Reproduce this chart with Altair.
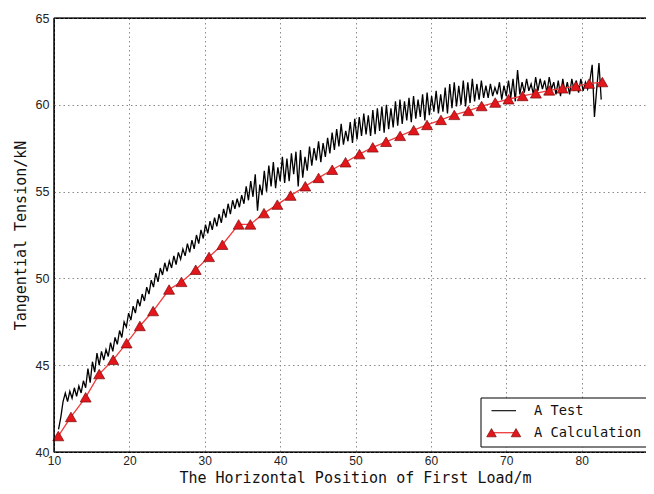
import altair as alt
import pandas as pd

# ---- data ----
calc_x = [10.57, 12.25, 14.2, 16.0, 17.85, 19.63, 21.39, 23.15, 25.27, 26.91,
          28.8, 30.57, 32.34, 34.5, 36.05, 37.86, 39.63, 41.39, 43.34, 45.1,
          46.91, 48.68, 50.53, 52.29, 54.06, 55.92, 57.72, 59.49, 61.34, 63.11,
          64.97, 66.73, 68.54, 70.3, 72.16, 73.93, 75.7, 77.46, 79.23, 80.99, 82.75]
calc_y = [40.92, 42.02, 43.15, 44.49, 45.31, 46.27, 47.26, 48.12, 49.36, 49.8,
          50.5, 51.24, 51.94, 53.11, 53.11, 53.76, 54.25, 54.77, 55.31, 55.79,
          56.26, 56.69, 57.16, 57.55, 57.87, 58.21, 58.54, 58.84, 59.13, 59.42,
          59.65, 59.93, 60.13, 60.32, 60.51, 60.66, 60.83, 60.95, 61.08, 61.22, 61.31]

# test record, sampled every 0.3 m starting at 10.6 m
test_x0 = 10.6
test_dx = 0.3
test_y = [
    41.3, 42.0, 42.9, 43.4, 42.9, 43.5, 43.1, 43.7, 43.2, 43.8,
    43.4, 44.1, 43.7, 44.8, 44.0, 45.2, 44.6, 45.7, 45.0, 45.8,
    45.3, 45.9, 45.5, 46.3, 45.8, 46.6, 46.2, 47.0, 46.6, 47.5,
    47.2, 48.0, 47.6, 48.4, 48.0, 48.8, 48.4, 49.1, 48.7, 49.5,
    49.1, 49.9, 49.5, 50.3, 49.8, 50.6, 50.2, 50.9, 50.4, 51.0,
    50.6, 51.3, 50.8, 51.5, 51.1, 51.7, 51.3, 52.0, 51.5, 52.2,
    51.7, 52.5, 52.0, 52.8, 52.3, 53.1, 52.6, 53.3, 52.8, 53.5,
    53.0, 53.7, 53.2, 54.0, 53.5, 54.3, 53.7, 54.5, 54.0, 54.6,
    54.1, 54.8, 54.3, 55.3, 54.5, 55.6, 54.7, 56.0, 53.9, 55.4,
    54.8, 56.2, 55.0, 56.5, 55.3, 56.7, 55.2, 56.4, 55.6, 57.0,
    55.5, 56.9, 55.6, 57.2, 56.0, 57.3, 55.3, 57.4, 55.8, 57.0,
    56.2, 57.6, 56.5, 57.5, 56.8, 57.9, 56.7, 57.8, 57.0, 58.1,
    57.2, 58.4, 57.4, 58.6, 57.6, 58.9, 57.7, 58.5, 57.9, 59.0,
    57.8, 59.2, 58.0, 59.3, 58.2, 59.5, 58.3, 59.4, 58.2, 59.7,
    58.3, 59.8, 58.5, 59.9, 58.4, 60.0, 58.6, 59.8, 58.7, 60.2,
    58.8, 60.3, 58.9, 60.2, 59.1, 60.4, 59.0, 60.5, 59.2, 60.3,
    59.3, 60.6, 59.1, 60.7, 59.4, 60.5, 59.6, 60.8, 59.5, 60.6,
    59.6, 61.0, 59.5, 61.2, 59.8, 61.3, 59.9, 61.1, 60.0, 61.4,
    59.9, 61.3, 60.1, 61.5, 60.2, 61.2, 60.3, 61.4, 60.4, 61.1,
    60.4, 61.2, 60.5, 61.0, 60.6, 61.3, 60.3, 61.1, 60.5, 61.4,
    60.4, 61.5, 60.2, 62.0, 60.6, 61.3, 60.7, 61.5, 60.8, 61.2,
    60.6, 61.6, 60.8, 61.5, 60.9, 61.4, 60.7, 61.6, 60.9, 61.3,
    60.6, 61.4, 60.5, 61.5, 60.7, 61.3, 60.6, 61.5, 60.8, 61.4,
    60.7, 61.5, 60.8, 61.3, 60.9, 61.4, 62.3, 59.3, 60.9, 62.4,
    60.3,
]

x_ticks = [10, 20, 30, 40, 50, 60, 70, 80, 90]
y_ticks = [40, 45, 50, 55, 60, 65]
x_title = "The Horizontal Position of First Load/m"
y_title = "Tangential Tension/kN"
legend_labels = ["A Test", "A Calculation"]

test_x = [round(test_x0 + test_dx * i, 2) for i in range(len(test_y))]
df_test = pd.DataFrame({"x": test_x, "y": test_y})
df_calc = pd.DataFrame({"x": calc_x, "y": calc_y})
one = pd.DataFrame({"k": [0]})

RED_LINE = "#ef3b3b"
RED_FILL = "#e3161c"
RED_EDGE = "#7a0a0a"
MONO = "DejaVu Sans Mono"
W, H = 603, 434

xs = alt.Scale(domain=[10, 90], nice=False, zero=False)
ys = alt.Scale(domain=[40, 65], nice=False, zero=False)

x_axis = alt.Axis(values=x_ticks, title=x_title, grid=True, domain=False, ticks=False,
                  labelFlush=False, labelPadding=3, labelFontSize=12,
                  titleX=301, titleY=30.5, titleAlign="center", titleBaseline="alphabetic")
y_axis = alt.Axis(values=y_ticks, title=y_title, grid=True, domain=False, ticks=False,
                  labelFlush=False, labelPadding=5, labelFontSize=12.5,
                  titleX=-34, titleY=H / 2, titleAngle=270,
                  titleAlign="center", titleBaseline="middle")

test_line = alt.Chart(df_test).mark_line(color="black", strokeWidth=1.3).encode(
    x=alt.X("x:Q", scale=xs, axis=x_axis),
    y=alt.Y("y:Q", scale=ys, axis=y_axis),
)
calc_line = alt.Chart(df_calc).mark_line(color=RED_LINE, strokeWidth=1.3).encode(
    x=alt.X("x:Q", scale=xs), y=alt.Y("y:Q", scale=ys)
)
calc_pts = alt.Chart(df_calc).mark_point(
    shape="triangle-up", filled=True, fill=RED_FILL, stroke=RED_EDGE,
    strokeWidth=0.7, size=120, opacity=1
).encode(x=alt.X("x:Q", scale=xs), y=alt.Y("y:Q", scale=ys))

# ---- solid frame lines (top, left, bottom) drawn over the dotted grid ----
frame_top = alt.Chart(one).mark_rule(color="black", strokeWidth=1.2).encode(
    x=alt.value(0), x2=alt.value(W), y=alt.value(0)
)
frame_bottom = alt.Chart(one).mark_rule(color="black", strokeWidth=1.2).encode(
    x=alt.value(0), x2=alt.value(W), y=alt.value(H)
)
frame_left = alt.Chart(one).mark_rule(color="black", strokeWidth=1.2).encode(
    x=alt.value(0), y=alt.value(0), y2=alt.value(H)
)

# ---- legend box (bottom right, inside the plot) ----
leg_box = alt.Chart(one).mark_rect(fill="white", stroke="black", strokeWidth=1).encode(
    x=alt.value(427), x2=alt.value(594), y=alt.value(380), y2=alt.value(429)
)
leg_l1 = alt.Chart(one).mark_rule(color="black", strokeWidth=1.1).encode(
    x=alt.value(437.5), x2=alt.value(462), y=alt.value(392.7)
)
leg_l2 = alt.Chart(one).mark_rule(color=RED_LINE, strokeWidth=1.3).encode(
    x=alt.value(437.5), x2=alt.value(462), y=alt.value(414.7)
)
leg_t1 = alt.Chart(one).mark_point(
    shape="triangle-up", filled=True, fill=RED_FILL, stroke=RED_EDGE,
    strokeWidth=0.7, size=90, opacity=1
).encode(x=alt.value(437.5), y=alt.value(414.7))
leg_t2 = alt.Chart(one).mark_point(
    shape="triangle-up", filled=True, fill=RED_FILL, stroke=RED_EDGE,
    strokeWidth=0.7, size=90, opacity=1
).encode(x=alt.value(462), y=alt.value(414.7))
leg_txt1 = alt.Chart(one).mark_text(
    align="left", baseline="middle", font=MONO, fontSize=13.7, color="#111"
).encode(x=alt.value(480), y=alt.value(392.7), text=alt.value(legend_labels[0]))
leg_txt2 = alt.Chart(one).mark_text(
    align="left", baseline="middle", font=MONO, fontSize=13.7, color="#111"
).encode(x=alt.value(480), y=alt.value(414.7), text=alt.value(legend_labels[1]))

chart = alt.layer(
    test_line, calc_line, calc_pts,
    frame_top, frame_bottom, frame_left,
    leg_box, leg_l1, leg_l2, leg_t1, leg_t2, leg_txt1, leg_txt2,
).properties(
    width=W, height=H,
    padding={"left": 46, "top": 10, "right": -11, "bottom": 34},
    autosize=alt.AutoSizeParams(type="none"),
    background="white",
).configure_view(
    stroke="black", strokeWidth=1.2
).configure_axis(
    gridColor="#8c8c8c", gridDash=[1.5, 3], gridWidth=1, gridOpacity=1,
    labelFont="Liberation Sans", labelColor="#222",
    titleFont=MONO, titleFontSize=15, titleFontWeight="normal", titleColor="#111",
)

chart.save("out.html", embed_options={"renderer": "svg", "actions": False})
